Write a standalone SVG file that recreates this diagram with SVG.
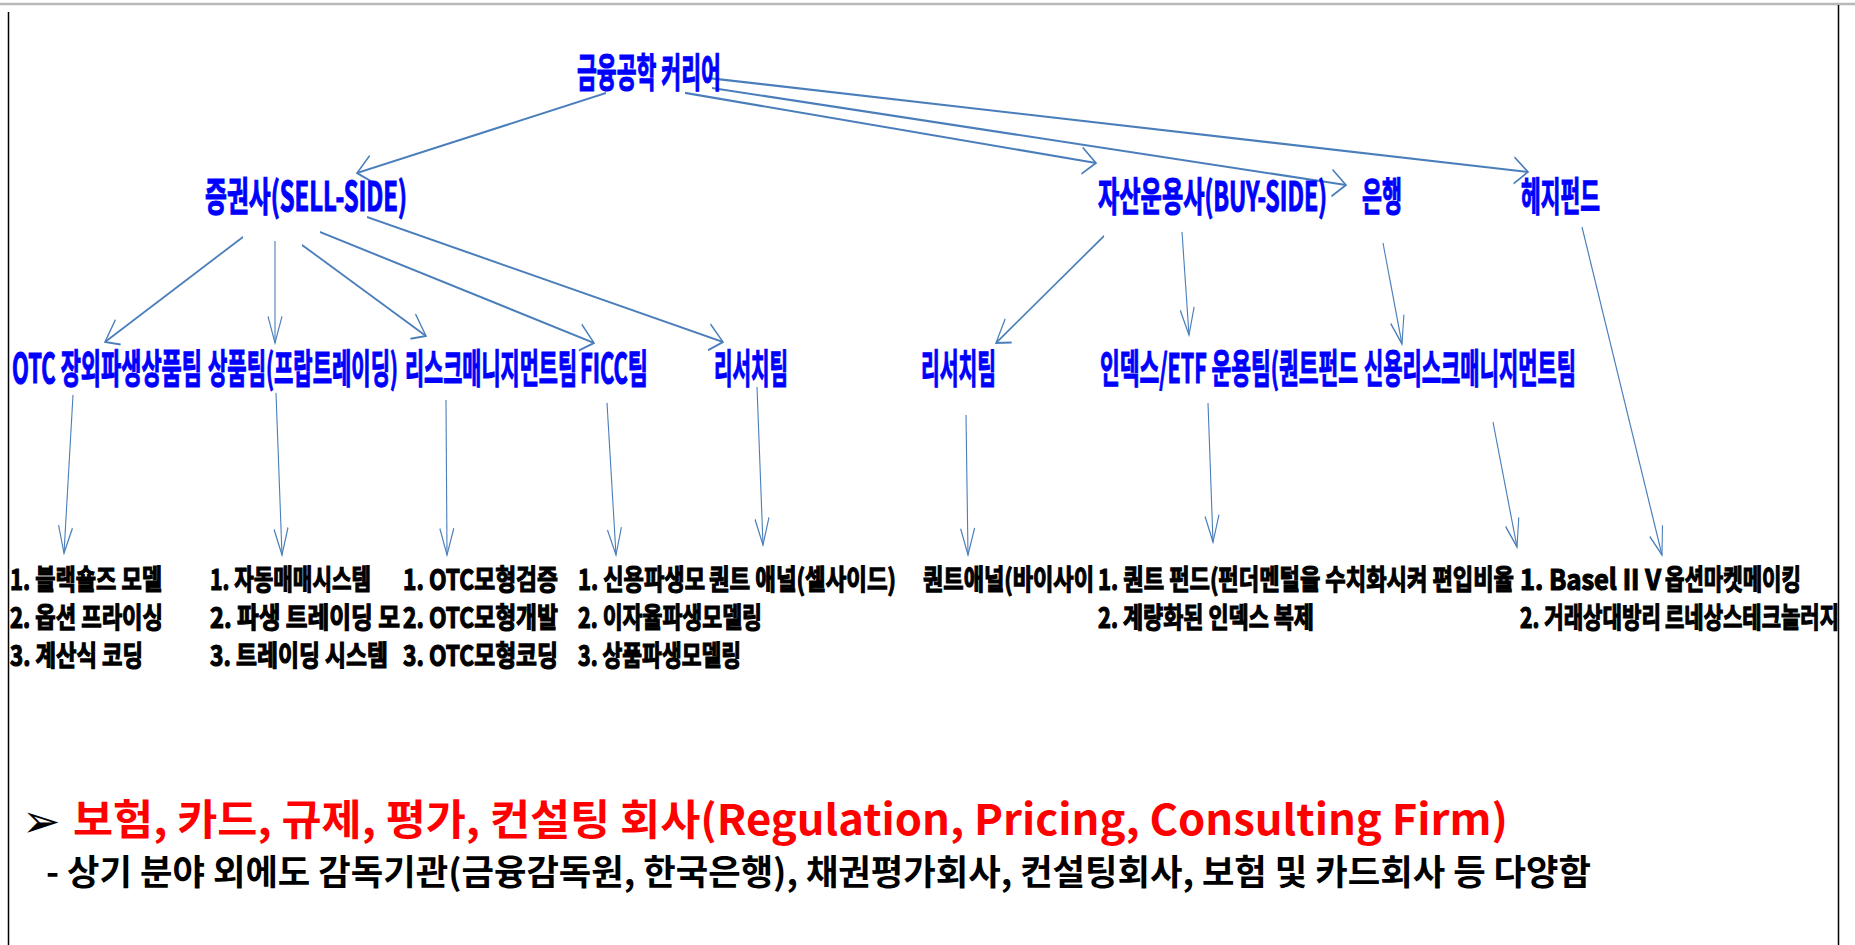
<svg xmlns="http://www.w3.org/2000/svg" width="1855" height="945" viewBox="0 0 1855 945">
<style>
.blue{font-family:"Noto Sans CJK KR","Noto Sans",sans-serif;font-weight:700;font-size:21px;fill:#0000FF;stroke:#0000FF;stroke-width:0.6}
.leaf{font-family:"Noto Sans CJK KR","Noto Sans",sans-serif;font-weight:700;font-size:15px;fill:#000;stroke:#000;stroke-width:0.65}
.conn line{stroke:#4A7EBB;stroke-width:1.1;fill:none;marker-end:url(#ah)}
.red{font-family:"Noto Sans CJK KR","Noto Sans",sans-serif;font-weight:700;font-size:42px;fill:#FF0000}
.sub{font-family:"Noto Sans CJK KR","Noto Sans",sans-serif;font-weight:700;font-size:35px;fill:#000}
.bullet{font-family:"DejaVu Sans",sans-serif;font-size:46px;fill:#000}
</style>
<defs>
<marker id="ah" markerUnits="userSpaceOnUse" markerWidth="16" markerHeight="16" refX="14" refY="7" orient="auto" overflow="visible">
<path d="M0,0 L14,7 L0,14" fill="none" stroke="#4A7EBB" stroke-width="1.1"/>
</marker>
<clipPath id="c577" clipPathUnits="userSpaceOnUse"><rect x="0" y="0" width="577" height="500"/></clipPath>
<clipPath id="c1838" clipPathUnits="userSpaceOnUse"><rect x="0" y="0" width="1838" height="500"/></clipPath>
</defs>
<rect x="0" y="0" width="1855" height="945" fill="#FFFFFF"/>
<g id="frame">
<line x1="0" y1="4" x2="1855" y2="4" stroke="#B8B8B8" stroke-width="2.5"/>
<line x1="8.5" y1="12" x2="8.5" y2="945" stroke="#000" stroke-width="1.5"/>
<line x1="1838.5" y1="5" x2="1838.5" y2="945" stroke="#000" stroke-width="1.5"/>
</g>
<g id="chart" transform="scale(1,1.9)">
<g id="connectors" class="conn">
<line x1="606" y1="48.9" x2="357" y2="91.1"/>
<line x1="685" y1="48.9" x2="1096" y2="85.8"/>
<line x1="712" y1="46.3" x2="1346" y2="97.4"/>
<line x1="709" y1="41.1" x2="1528" y2="90.5"/>
<line x1="243" y1="124.7" x2="105" y2="180"/>
<line x1="275" y1="126.8" x2="275" y2="180.5"/>
<line x1="302" y1="128.9" x2="426" y2="176.8"/>
<line x1="320" y1="122.1" x2="594" y2="180.5"/>
<line x1="367" y1="114.2" x2="723" y2="180"/>
<line x1="1104" y1="124.2" x2="996" y2="180.5"/>
<line x1="1182" y1="122.1" x2="1189" y2="176.3"/>
<line x1="1383" y1="127.9" x2="1402" y2="181.1"/>
<line x1="1582" y1="119.5" x2="1662" y2="292.1"/>
<line x1="73" y1="207.9" x2="64" y2="291.1"/>
<line x1="276" y1="206.8" x2="282" y2="292.1"/>
<line x1="446" y1="210.5" x2="447" y2="292.1"/>
<line x1="607" y1="212.1" x2="616" y2="292.1"/>
<line x1="757" y1="203.7" x2="763" y2="286.8"/>
<line x1="966" y1="218.4" x2="968" y2="292.1"/>
<line x1="1208" y1="212.1" x2="1213" y2="285.3"/>
<line x1="1493" y1="222.1" x2="1517" y2="287.9"/>
</g>
<g id="n-root"><text class="blue" x="577" y="45.9" textLength="144" lengthAdjust="spacingAndGlyphs">금융공학 커리어</text></g>
<g id="n-sell"><text class="blue" x="205" y="111.1" textLength="202" lengthAdjust="spacingAndGlyphs">증권사(SELL-SIDE)</text></g>
<g id="n-buy"><text class="blue" x="1098" y="111.1" textLength="229" lengthAdjust="spacingAndGlyphs">자산운용사(BUY-SIDE)</text></g>
<g id="n-bank"><text class="blue" x="1362" y="111.1" textLength="40" lengthAdjust="spacingAndGlyphs">은행</text></g>
<g id="n-hedge"><text class="blue" x="1521" y="111.1" textLength="79" lengthAdjust="spacingAndGlyphs">헤지펀드</text></g>
<g id="n-otc"><text class="blue" x="12" y="201.4" textLength="190" lengthAdjust="spacingAndGlyphs">OTC 장외파생상품팀</text></g>
<g id="n-prop"><text class="blue" x="208" y="201.4" textLength="190" lengthAdjust="spacingAndGlyphs">상품팀(프랍트레이딩)</text></g>
<g id="n-risk"><text class="blue" x="405" y="201.4" textLength="172" lengthAdjust="spacingAndGlyphs" clip-path="url(#c577)">리스크매니지먼트팀</text></g>
<g id="n-ficc"><text class="blue" x="580" y="201.4" textLength="68" lengthAdjust="spacingAndGlyphs">FICC팀</text></g>
<g id="n-research1"><text class="blue" x="714" y="201.4" textLength="74" lengthAdjust="spacingAndGlyphs">리서치팀</text></g>
<g id="n-research2"><text class="blue" x="921" y="201.4" textLength="75" lengthAdjust="spacingAndGlyphs">리서치팀</text></g>
<g id="n-index"><text class="blue" x="1100" y="201.4" textLength="258" lengthAdjust="spacingAndGlyphs">인덱스/ETF 운용팀(퀀트펀드</text></g>
<g id="n-credit"><text class="blue" x="1364" y="201.4" textLength="212" lengthAdjust="spacingAndGlyphs">신용리스크매니지먼트팀</text></g>
<g id="l-otc">
<text class="leaf" x="10" y="310.5" textLength="152" lengthAdjust="spacingAndGlyphs">1. 블랙숄즈 모델</text>
<text class="leaf" x="10" y="330.5" textLength="153" lengthAdjust="spacingAndGlyphs">2. 옵션 프라이싱</text>
<text class="leaf" x="10" y="350.7" textLength="133" lengthAdjust="spacingAndGlyphs">3. 계산식 코딩</text>
</g>
<g id="l-prop">
<text class="leaf" x="210" y="310.5" textLength="161" lengthAdjust="spacingAndGlyphs">1. 자동매매시스템</text>
<text class="leaf" x="210" y="330.5" textLength="190" lengthAdjust="spacingAndGlyphs">2. 파생 트레이딩 모</text>
<text class="leaf" x="210" y="350.7" textLength="178" lengthAdjust="spacingAndGlyphs">3. 트레이딩 시스템</text>
</g>
<g id="l-risk">
<text class="leaf" x="403" y="310.5" textLength="155" lengthAdjust="spacingAndGlyphs">1. OTC모형검증</text>
<text class="leaf" x="403" y="330.5" textLength="155" lengthAdjust="spacingAndGlyphs">2. OTC모형개발</text>
<text class="leaf" x="403" y="350.7" textLength="155" lengthAdjust="spacingAndGlyphs">3. OTC모형코딩</text>
</g>
<g id="l-ficc">
<text class="leaf" x="578" y="310.5" textLength="127" lengthAdjust="spacingAndGlyphs">1. 신용파생모</text>
<text class="leaf" x="578" y="330.5" textLength="184" lengthAdjust="spacingAndGlyphs">2. 이자율파생모델링</text>
<text class="leaf" x="578" y="350.7" textLength="163" lengthAdjust="spacingAndGlyphs">3. 상품파생모델링</text>
</g>
<g id="l-research1"><text class="leaf" x="709" y="310.5" textLength="187" lengthAdjust="spacingAndGlyphs">퀀트 애널(셀사이드)</text></g>
<g id="l-research2"><text class="leaf" x="923" y="310.5" textLength="171" lengthAdjust="spacingAndGlyphs">퀀트애널(바이사이</text></g>
<g id="l-index">
<text class="leaf" x="1098" y="310.5" textLength="416" lengthAdjust="spacingAndGlyphs">1. 퀀트 펀드(펀더멘털을 수치화시켜 편입비율</text>
<text class="leaf" x="1098" y="330.5" textLength="216" lengthAdjust="spacingAndGlyphs">2. 계량화된 인덱스 복제</text>
</g>
<g id="l-credit">
<text class="leaf" x="1520" y="310.5" textLength="141" lengthAdjust="spacingAndGlyphs">1. Basel II V</text>
<text class="leaf" x="1520" y="330.5" textLength="141" lengthAdjust="spacingAndGlyphs">2. 거래상대방리</text>
</g>
<g id="l-hedge">
<text class="leaf" x="1665" y="310.5" textLength="136" lengthAdjust="spacingAndGlyphs">옵션마켓메이킹</text>
<text class="leaf" x="1665" y="330.5" textLength="174" lengthAdjust="spacingAndGlyphs" clip-path="url(#c1838)">르네상스테크놀러지</text>
</g>
</g>
<g id="note">
<text class="bullet" x="22" y="837">➢</text>
<text class="red" x="73" y="835" textLength="1435" lengthAdjust="spacingAndGlyphs">보험, 카드, 규제, 평가, 컨설팅 회사(Regulation, Pricing, Consulting Firm)</text>
<text class="sub" x="46" y="885" textLength="1545" lengthAdjust="spacingAndGlyphs">- 상기 분야 외에도 감독기관(금융감독원, 한국은행), 채권평가회사, 컨설팅회사, 보험 및 카드회사 등 다양함</text>
</g>
</svg>
